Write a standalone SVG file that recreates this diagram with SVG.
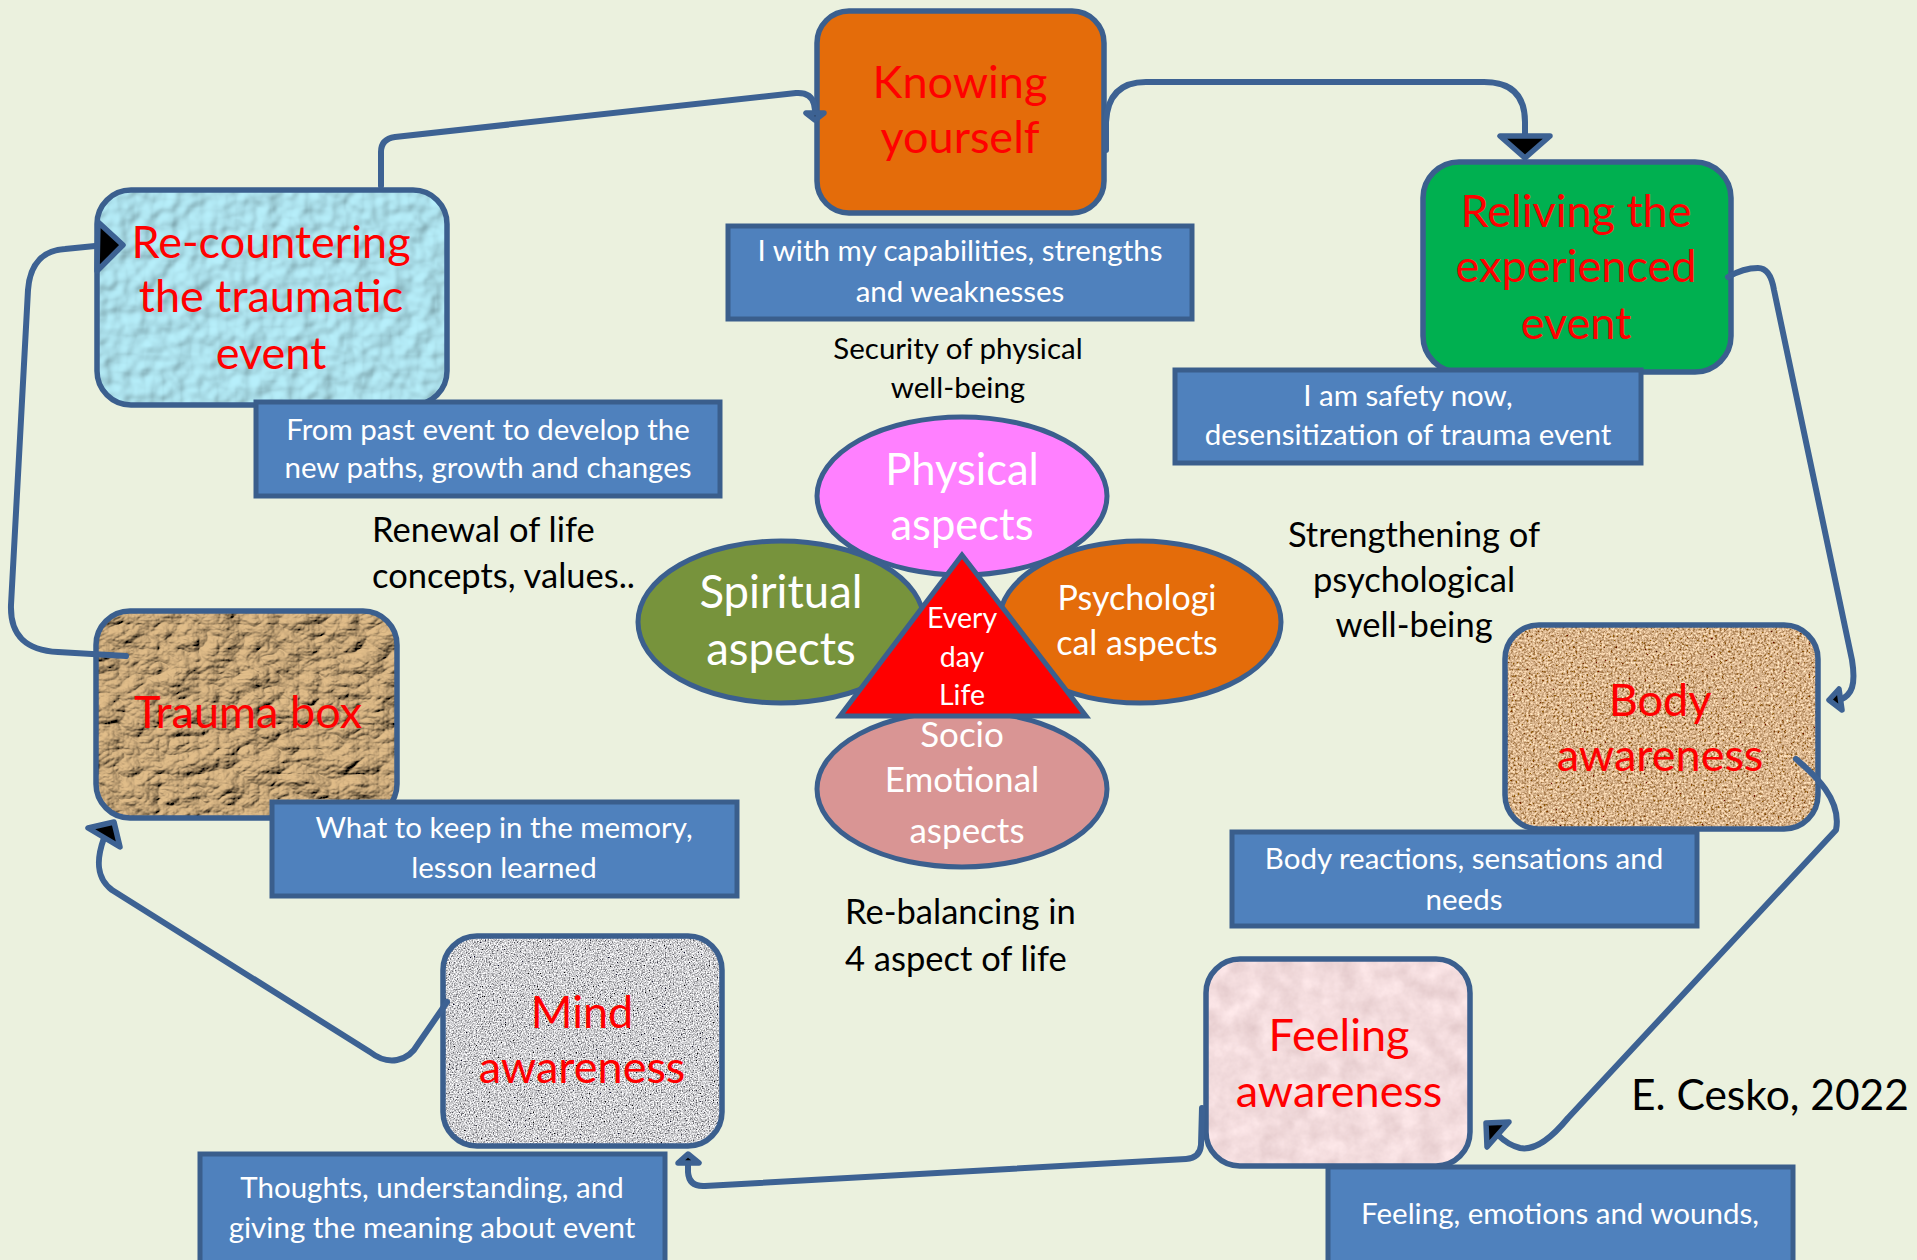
<svg xmlns="http://www.w3.org/2000/svg" width="1917" height="1260" viewBox="0 0 1917 1260">
<style>
text{font-family:Lato,"Liberation Sans",sans-serif}
.title{fill:#FF0000;font-size:45px;text-anchor:middle}
.lbl{fill:#4F81BD;stroke:#3A5E8C;stroke-width:5}
.lt{fill:#FFFFFF;font-size:29.5px;text-anchor:middle}
.plain{fill:#000000;font-size:34.5px}
.nb{fill:none;stroke:#3B5F8E;stroke-width:5.5}
.el{stroke:#3B5F8E;stroke-width:5}
.et{fill:#FFFFFF;text-anchor:middle}
.con{fill:none;stroke:#3D6293;stroke-width:6;stroke-linecap:round;stroke-linejoin:round}
.ah{fill:#000000;stroke:#3D6293;stroke-width:5.5;stroke-linejoin:round}
</style>
<defs>
<filter id="water" x="0" y="0" width="1" height="1">
<feTurbulence type="fractalNoise" baseFrequency="0.055" numOctaves="2" seed="4" result="n"/>
<feDiffuseLighting in="n" surfaceScale="4" diffuseConstant="1" lighting-color="#B8F0FC" result="l"><feDistantLight azimuth="225" elevation="58"/></feDiffuseLighting>
<feComposite in="l" in2="SourceGraphic" operator="in"/>
</filter>
<filter id="paper" x="0" y="0" width="1" height="1">
<feTurbulence type="turbulence" baseFrequency="0.025 0.04" numOctaves="5" seed="7" result="n"/>
<feDiffuseLighting in="n" surfaceScale="7" diffuseConstant="1" lighting-color="#E2BE8A" result="l"><feDistantLight azimuth="225" elevation="48"/></feDiffuseLighting>
<feComposite in="l" in2="SourceGraphic" operator="in"/>
</filter>
<filter id="cork" x="0" y="0" width="1" height="1">
<feTurbulence type="fractalNoise" baseFrequency="0.45" numOctaves="3" seed="2" result="n"/>
<feColorMatrix in="n" type="matrix" values="1.5 0 0 0 -0.07  1.3 0 0 0 -0.2  1.0 0 0 0 -0.24  0 0 0 0 1" result="c"/>
<feComposite in="c" in2="SourceGraphic" operator="in"/>
</filter>
<filter id="granite" x="0" y="0" width="1" height="1">
<feTurbulence type="fractalNoise" baseFrequency="0.75" numOctaves="3" seed="9" result="n"/>
<feColorMatrix in="n" type="matrix" values="2.0 0 0 0 -0.38  2.0 0 0 0 -0.38  2.0 0 0 0 -0.36  0 0 0 0 1" result="c"/>
<feComposite in="c" in2="SourceGraphic" operator="in"/>
</filter>
<filter id="pink" x="0" y="0" width="1" height="1">
<feTurbulence type="fractalNoise" baseFrequency="0.05" numOctaves="4" seed="5" result="n"/>
<feColorMatrix in="n" type="matrix" values="0.3 0 0 0 0.74  0.3 0 0 0 0.56  0.3 0 0 0 0.57  0 0 0 0 1" result="c"/>
<feComposite in="c" in2="SourceGraphic" operator="in"/>
</filter>
</defs>
<rect x="0" y="0" width="1917" height="1260" fill="#EBF1DE"/>

<g id="knowing">
<rect x="817" y="11" width="287" height="202" rx="32" class="nb" style="fill:#E46C0A"/>
<text class="title" x="960" y="98">Knowing</text>
<text class="title" x="960" y="153">yourself</text>
</g>
<g id="knowing-label">
<rect class="lbl" x="728" y="226" width="464" height="93"/>
<text class="lt" x="960" y="261">I with my capabilities, strengths</text>
<text class="lt" x="960" y="302">and weaknesses</text>
</g>
<g id="security-text">
<text class="plain" x="958" y="359" text-anchor="middle" style="font-size:29.5px">Security of physical</text>
<text class="plain" x="958" y="398" text-anchor="middle" style="font-size:29.5px">well-being</text>
</g>

<g id="recountering">
<rect x="97" y="190" width="350" height="215" rx="34" fill="#A8DCE8" filter="url(#water)"/>
<rect class="nb" x="97" y="190" width="350" height="215" rx="34"/>
<text class="title" x="271" y="258">Re-countering</text>
<text class="title" x="271" y="312">the traumatic</text>
<text class="title" x="271" y="369">event</text>
</g>
<g id="recountering-label">
<rect class="lbl" x="256" y="402" width="464" height="94"/>
<text class="lt" x="488" y="440">From past event to develop the</text>
<text class="lt" x="488" y="478">new paths, growth and changes</text>
</g>
<g id="renewal-text">
<text class="plain" x="372" y="542">Renewal of life</text>
<text class="plain" x="372" y="588">concepts, values..</text>
</g>

<g id="reliving">
<rect x="1423" y="162" width="308" height="210" rx="36" class="nb" style="fill:#00B050"/>
<text class="title" x="1576" y="227">Reliving the</text>
<text class="title" x="1576" y="282">experienced</text>
<text class="title" x="1576" y="339">event</text>
</g>
<g id="reliving-label">
<rect class="lbl" x="1175" y="370" width="466" height="93"/>
<text class="lt" x="1408" y="406">I am safety now,</text>
<text class="lt" x="1408" y="445">desensitization of trauma event</text>
</g>
<g id="strengthening-text">
<text class="plain" x="1414" y="547" text-anchor="middle">Strengthening of</text>
<text class="plain" x="1414" y="592" text-anchor="middle">psychological</text>
<text class="plain" x="1414" y="637" text-anchor="middle">well-being</text>
</g>

<g id="body">
<rect x="1505" y="625" width="313" height="204" rx="34" fill="#B98A5C" filter="url(#cork)"/>
<rect class="nb" x="1505" y="625" width="313" height="204" rx="34"/>
<text class="title" x="1660" y="716">Body</text>
<text class="title" x="1660" y="771">awareness</text>
</g>
<g id="body-label">
<rect class="lbl" x="1232" y="832" width="465" height="94"/>
<text class="lt" x="1464" y="869">Body reactions, sensations and</text>
<text class="lt" x="1464" y="910">needs</text>
</g>

<g id="feeling">
<rect x="1206" y="959" width="264" height="207" rx="34" fill="#E8BEBE" filter="url(#pink)"/>
<rect class="nb" x="1206" y="959" width="264" height="207" rx="34"/>
<text class="title" x="1339" y="1051">Feeling</text>
<text class="title" x="1339" y="1107">awareness</text>
</g>
<g id="feeling-label">
<rect class="lbl" x="1328" y="1167" width="465" height="100"/>
<text class="lt" x="1560" y="1224">Feeling, emotions and wounds,</text>
</g>
<g id="author">
<text class="plain" x="1631" y="1110" style="font-size:42.5px">E. Cesko, 2022</text>
</g>

<g id="mind">
<rect x="443" y="936" width="279" height="210" rx="34" fill="#A8A8A8" filter="url(#granite)"/>
<rect class="nb" x="443" y="936" width="279" height="210" rx="34"/>
<text class="title" x="582" y="1028">Mind</text>
<text class="title" x="582" y="1083">awareness</text>
</g>
<g id="mind-label">
<rect class="lbl" x="200" y="1154" width="465" height="112"/>
<text class="lt" x="432" y="1198">Thoughts, understanding, and</text>
<text class="lt" x="432" y="1238">giving the meaning about event</text>
</g>
<g id="rebalancing-text">
<text class="plain" x="845" y="924">Re-balancing in</text>
<text class="plain" x="845" y="971">4 aspect of life</text>
</g>

<g id="trauma">
<rect x="96" y="611" width="301" height="207" rx="34" fill="#B89A6C" filter="url(#paper)"/>
<rect class="nb" x="96" y="611" width="301" height="207" rx="34"/>
<text class="title" x="248" y="728">Trauma box</text>
</g>
<g id="trauma-label">
<rect class="lbl" x="272" y="802" width="465" height="94"/>
<text class="lt" x="504" y="838">What to keep in the memory,</text>
<text class="lt" x="504" y="878">lesson learned</text>
</g>

<g id="physical">
<ellipse class="el" cx="962" cy="496" rx="145" ry="79" fill="#FF80FF"/>
<text class="et" x="962" y="485" style="font-size:43.5px">Physical</text>
<text class="et" x="962" y="540" style="font-size:43.5px">aspects</text>
</g>
<g id="socio">
<ellipse class="el" cx="962" cy="789" rx="145" ry="78" fill="#D99594"/>
<text class="et" x="962" y="747" style="font-size:35px">Socio</text>
<text class="et" x="962" y="792" style="font-size:35px">Emotional</text>
<text class="et" x="967" y="843" style="font-size:35px">aspects</text>
</g>
<g id="spiritual">
<ellipse class="el" cx="781" cy="622" rx="143" ry="81" fill="#77933C"/>
<text class="et" x="781" y="608" style="font-size:45.5px">Spiritual</text>
<text class="et" x="781" y="665" style="font-size:45.5px">aspects</text>
</g>
<g id="psychological">
<ellipse class="el" cx="1140" cy="622" rx="141" ry="81" fill="#E46C0A"/>
<text class="et" x="1137" y="610" style="font-size:34px">Psychologi</text>
<text class="et" x="1137" y="655" style="font-size:34px">cal aspects</text>
</g>
<g id="everyday">
<polygon class="el" points="962,555 840,716 1086,716" fill="#FF0000"/>
<text class="et" x="962" y="628" style="font-size:28.5px">Every</text>
<text class="et" x="962" y="667" style="font-size:28.5px">day</text>
<text class="et" x="962" y="705" style="font-size:28.5px">Life</text>
</g>

<g id="connectors">
<path class="con" d="M381 186 L381 152 Q381 139 395 137 L796 93 Q811 92 814 104 L815 110"/>
<polygon class="ah" points="806,113 824,113 815,120"/>
<path class="con" d="M1106 150 L1106 122 Q1108 82 1146 82 L1484 82 Q1525 82 1525 122 L1525 134"/>
<polygon class="ah" points="1500,136 1550,136 1525,158"/>
<path class="con" d="M1728 277 C1740 270 1750 268 1758 268 C1768 268 1772 278 1774 290 L1852 660 C1856 685 1852 695 1840 700"/>
<polygon class="ah" points="1829,700 1839,689 1842,710"/>
<path class="con" d="M1796 759 C1815 775 1842 800 1836 830 L1568 1118 Q1540 1152 1520 1148 Q1508 1145 1498 1135"/>
<polygon class="ah" points="1486,1123 1509,1122 1487,1147"/>
<path class="con" d="M1202 1108 L1201 1145 Q1200 1158 1186 1159 L705 1186 Q689 1187 688 1172 L688 1164"/>
<polygon class="ah" points="678,1163 688,1154 699,1163"/>
<path class="con" d="M447 1002 L418 1044 C408 1062 388 1066 370 1052 L112 890 C96 878 96 860 104 838"/>
<polygon class="ah" points="88,828 114,822 120,847"/>
<path class="con" d="M126 656 L58 652 C25 650 10 635 11 605 L28 290 C30 262 45 250 65 249 L95 246"/>
<polygon class="ah" points="98,222 123,245 97,271"/>
</g>
</svg>
